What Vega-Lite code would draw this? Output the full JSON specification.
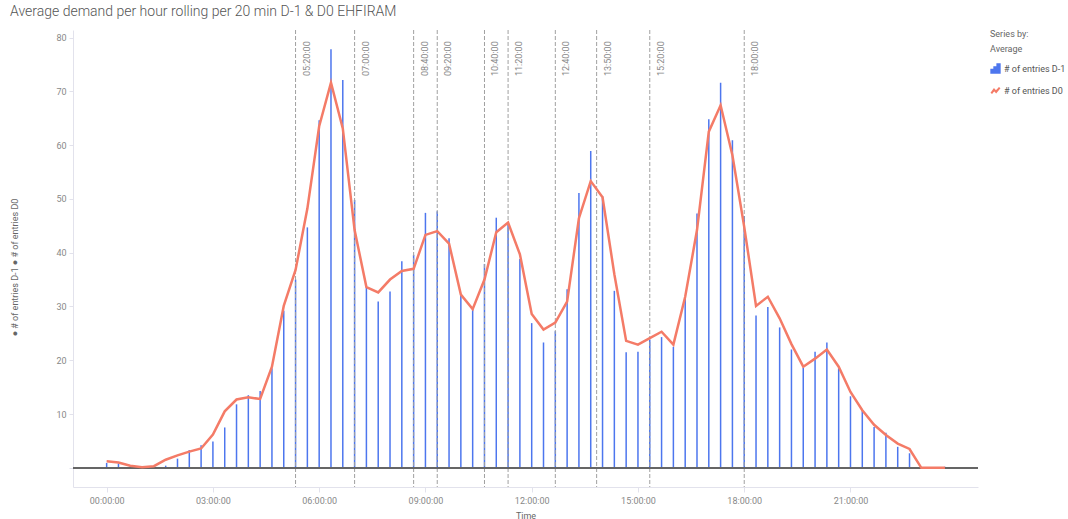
{
  "$schema": "https://vega.github.io/schema/vega-lite/v6.json",
  "width": 905,
  "height": 457,
  "autosize": {"type": "none"},
  "padding": {"left": 73, "top": 30, "right": 90, "bottom": 32},
  "title": {
    "text": "Average demand per hour rolling per 20 min D-1 & D0 EHFIRAM",
    "anchor": "start",
    "frame": "group",
    "dx": -63,
    "offset": 11,
    "fontSize": 14,
    "fontWeight": 300,
    "color": "#555555",
    "font": "Roboto"
  },
  "datasets": {
    "main": [
      {"t": 0, "d1": 0.9, "d0": 1.2},
      {"t": 20, "d1": 0.8, "d0": 1.0},
      {"t": 40, "d1": 0.2, "d0": 0.4},
      {"t": 60, "d1": 0.3, "d0": 0.1},
      {"t": 80, "d1": 0.1, "d0": 0.3},
      {"t": 100, "d1": 0.4, "d0": 1.5},
      {"t": 120, "d1": 1.7, "d0": 2.3},
      {"t": 140, "d1": 3.3, "d0": 3.0},
      {"t": 160, "d1": 4.2, "d0": 3.6},
      {"t": 180, "d1": 4.9, "d0": 6.2},
      {"t": 200, "d1": 7.5, "d0": 10.5},
      {"t": 220, "d1": 11.8, "d0": 12.7},
      {"t": 240, "d1": 13.5, "d0": 13.1},
      {"t": 260, "d1": 14.3, "d0": 12.8},
      {"t": 280, "d1": 18.5, "d0": 18.8},
      {"t": 300, "d1": 29.2, "d0": 30.1},
      {"t": 320, "d1": 35.0, "d0": 36.8},
      {"t": 340, "d1": 44.7, "d0": 48.2},
      {"t": 360, "d1": 64.6, "d0": 63.5},
      {"t": 380, "d1": 77.8, "d0": 71.6},
      {"t": 400, "d1": 72.1, "d0": 63.1},
      {"t": 420, "d1": 49.8, "d0": 44.2},
      {"t": 440, "d1": 33.5, "d0": 33.6},
      {"t": 460, "d1": 30.9, "d0": 32.6},
      {"t": 480, "d1": 32.8, "d0": 35.0},
      {"t": 500, "d1": 38.4, "d0": 36.6},
      {"t": 520, "d1": 39.6, "d0": 37.0},
      {"t": 540, "d1": 47.4, "d0": 43.3},
      {"t": 560, "d1": 47.7, "d0": 44.0},
      {"t": 580, "d1": 42.7, "d0": 41.7},
      {"t": 600, "d1": 32.1, "d0": 32.2},
      {"t": 620, "d1": 29.5, "d0": 29.5},
      {"t": 640, "d1": 37.9, "d0": 35.0},
      {"t": 660, "d1": 46.5, "d0": 43.8},
      {"t": 680, "d1": 45.6, "d0": 45.6},
      {"t": 700, "d1": 38.8, "d0": 39.7},
      {"t": 720, "d1": 26.9, "d0": 28.6},
      {"t": 740, "d1": 23.3, "d0": 25.7},
      {"t": 760, "d1": 25.4, "d0": 27.0},
      {"t": 780, "d1": 33.2, "d0": 30.9},
      {"t": 800, "d1": 51.1, "d0": 46.4},
      {"t": 820, "d1": 58.9, "d0": 53.3},
      {"t": 840, "d1": 50.5, "d0": 50.3},
      {"t": 860, "d1": 32.9, "d0": 36.0},
      {"t": 880, "d1": 21.5, "d0": 23.6},
      {"t": 900, "d1": 21.6, "d0": 22.9},
      {"t": 920, "d1": 23.8, "d0": 24.1},
      {"t": 940, "d1": 24.3, "d0": 25.3},
      {"t": 960, "d1": 22.5, "d0": 22.9},
      {"t": 980, "d1": 31.4, "d0": 31.8},
      {"t": 1000, "d1": 47.3, "d0": 44.2},
      {"t": 1020, "d1": 64.8, "d0": 62.5},
      {"t": 1040, "d1": 71.6, "d0": 67.4},
      {"t": 1060, "d1": 60.9, "d0": 58.1},
      {"t": 1080, "d1": 46.8, "d0": 44.8},
      {"t": 1100, "d1": 28.3, "d0": 30.1},
      {"t": 1120, "d1": 29.9, "d0": 31.8},
      {"t": 1140, "d1": 26.1, "d0": 27.8},
      {"t": 1160, "d1": 22.0, "d0": 23.0},
      {"t": 1180, "d1": 18.6, "d0": 18.8},
      {"t": 1200, "d1": 21.6, "d0": 20.3},
      {"t": 1220, "d1": 23.3, "d0": 22.0},
      {"t": 1240, "d1": 18.5, "d0": 18.8},
      {"t": 1260, "d1": 13.3, "d0": 14.1},
      {"t": 1280, "d1": 10.6, "d0": 10.7},
      {"t": 1300, "d1": 7.6, "d0": 8.0},
      {"t": 1320, "d1": 6.5, "d0": 6.1},
      {"t": 1340, "d1": 3.9, "d0": 4.5},
      {"t": 1360, "d1": 2.7, "d0": 3.5},
      {"t": 1380, "d1": 0, "d0": 0},
      {"t": 1400, "d1": 0.1, "d0": 0},
      {"t": 1420, "d1": 0.2, "d0": 0}
    ],
    "marks": [
      {"t": 320, "label": "05:20:00"},
      {"t": 420, "label": "07:00:00"},
      {"t": 520, "label": "08:40:00"},
      {"t": 560, "label": "09:20:00"},
      {"t": 640, "label": "10:40:00"},
      {"t": 680, "label": "11:20:00"},
      {"t": 760, "label": "12:40:00"},
      {"t": 830, "label": "13:50:00"},
      {"t": 920, "label": "15:20:00"},
      {"t": 1080, "label": "18:00:00"}
    ]
  },
  "resolve": {"scale": {"color": "shared"}},
  "layer": [
    {
      "data": {"name": "main"},
      "mark": {"type": "bar", "width": 1.5},
      "encoding": {
        "x": {
          "field": "t",
          "type": "quantitative",
          "scale": {"domain": [-57, 1476], "nice": false, "zero": false, "padding": 0},
          "axis": {
            "title": "Time",
            "values": [0, 180, 360, 540, 720, 900, 1080, 1260],
            "labelExpr": "utcFormat(datum.value * 60000, '%H:%M:%S')",
            "grid": false,
            "domainColor": "#e2e2ec",
            "tickColor": "#e2e2ec",
            "tickSize": 5,
            "labelFontSize": 9,
            "labelColor": "#888888",
            "labelPadding": 4,
            "titleFontSize": 9,
            "titleFontWeight": "normal",
            "titleColor": "#666666",
            "titlePadding": 6
          }
        },
        "y": {
          "field": "d1",
          "type": "quantitative",
          "scale": {"domain": [-3.57, 81.4], "nice": false, "zero": false, "padding": 0},
          "axis": {
            "title": "●  # of entries D-1       ●  # of entries D0",
            "values": [0, 10, 20, 30, 40, 50, 60, 70, 80],
            "labelExpr": "datum.value == 0 ? '' : datum.label",
            "grid": false,
            "domainColor": "#e2e2ec",
            "tickColor": "#e2e2ec",
            "tickSize": 4,
            "labelFontSize": 9,
            "labelColor": "#888888",
            "labelPadding": 3,
            "titleFontSize": 9,
            "titleFontWeight": "normal",
            "titleColor": "#666666",
            "titlePadding": 36,
            "titleY": 237
          }
        },
        "color": {
          "datum": "# of entries D-1",
          "scale": {
            "domain": ["# of entries D-1", "# of entries D0"],
            "range": ["#4d76ee", "#f47b67"]
          },
          "legend": {
            "title": ["Series by:", "Average"],
            "orient": "right",
            "offset": 12,
            "titleFontSize": 9,
            "titleFontWeight": "normal",
            "titleColor": "#666666",
            "titleLineHeight": 15,
            "titlePadding": 9,
            "labelFontSize": 9,
            "labelColor": "#555555",
            "labelOffset": 3,
            "labelLimit": 80,
            "symbolSize": 70,
            "rowPadding": 6,
            "encode": {
              "symbols": {
                "update": {
                  "shape": [
                    {"test": "datum.value === '# of entries D-1'", "value": "M-1,1V0.3H-0.45V1Z M-0.28,1V-0.3H0.28V1Z M0.45,1V-1H1V1Z"},
                    {"value": "M-1,0.7L-0.35,-0.2L0.15,0.35L1,-0.7"}
                  ],
                  "fill": [
                    {"test": "datum.value === '# of entries D-1'", "value": "#4d76ee"},
                    {"value": "transparent"}
                  ],
                  "stroke": [
                    {"test": "datum.value === '# of entries D-1'", "value": "transparent"},
                    {"value": "#f47b67"}
                  ],
                  "strokeWidth": {"value": 2},
                  "opacity": {"value": 1}
                }
              }
            }
          }
        }
      }
    },
    {
      "data": {"name": "marks"},
      "mark": {"type": "rule", "color": "#a0a0a0", "strokeDash": [4, 2], "strokeWidth": 1},
      "encoding": {
        "x": {"field": "t", "type": "quantitative"}
      }
    },
    {
      "data": {"name": "main"},
      "mark": {"type": "rule", "color": "#666666", "strokeWidth": 1},
      "encoding": {
        "y": {"datum": 0}
      }
    },
    {
      "data": {"name": "main"},
      "mark": {"type": "line", "strokeWidth": 2.5, "interpolate": "linear"},
      "encoding": {
        "x": {"field": "t", "type": "quantitative"},
        "y": {"field": "d0", "type": "quantitative"},
        "color": {"datum": "# of entries D0"}
      }
    },
    {
      "data": {"name": "marks"},
      "mark": {"type": "text", "angle": 270, "align": "right", "baseline": "middle", "dy": 11, "fontSize": 9, "color": "#888888"},
      "encoding": {
        "x": {"field": "t", "type": "quantitative"},
        "y": {"datum": 79.3},
        "text": {"field": "label"}
      }
    }
  ],
  "config": {
    "font": "Roboto",
    "view": {"stroke": null},
    "background": "white"
  }
}
